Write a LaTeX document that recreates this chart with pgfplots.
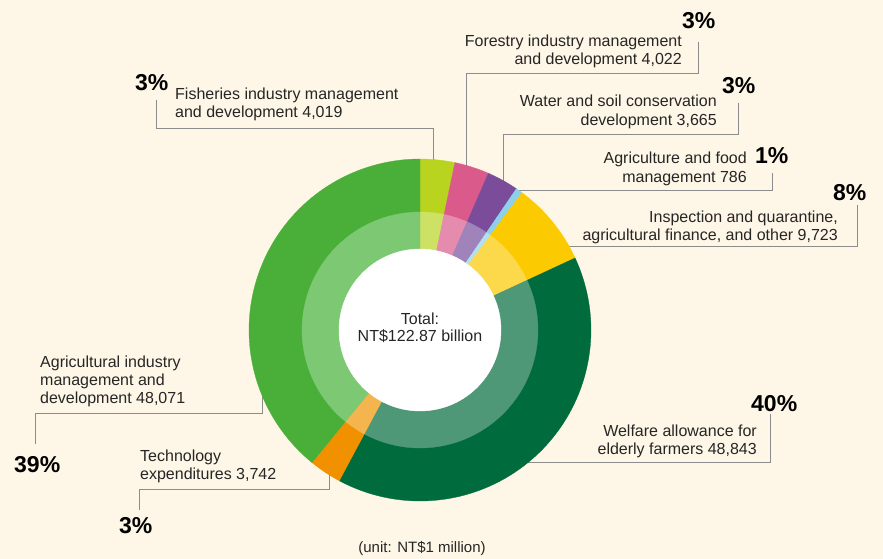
\documentclass[border=0pt]{standalone}
\usepackage{pgfplots}
\pgfplotsset{compat=1.18}
\usepackage{fontspec}
\setmainfont{Liberation Sans}
\definecolor{bg}{HTML}{FEF6E6}
\definecolor{cAgri}{HTML}{4AAF38}\definecolor{lAgri}{HTML}{7DC873}
\definecolor{cFish}{HTML}{B8D41E}\definecolor{lFish}{HTML}{CDE264}
\definecolor{cFor}{HTML}{DA5A8B}\definecolor{lFor}{HTML}{E58CAE}
\definecolor{cWat}{HTML}{7A4C9A}\definecolor{lWat}{HTML}{A083BA}
\definecolor{cFood}{HTML}{8DD0EA}\definecolor{lFood}{HTML}{B1E0F0}
\definecolor{cIns}{HTML}{FBCA00}\definecolor{lIns}{HTML}{FCD94A}
\definecolor{cWel}{HTML}{006B3C}\definecolor{lWel}{HTML}{4E9777}
\definecolor{cTec}{HTML}{F29100}\definecolor{lTec}{HTML}{F4B44E}
\definecolor{lead}{HTML}{8C8C8C}
% values in NT$ billion (original unit NT$1 million)
% Fisheries 4,019; Forestry 4,022; Water 3,665; Food 786; Inspection 9,723;
% Welfare 48,843; Technology 3,742; Agricultural industry 48,071
\pgfmathsetmacro\k{360/122.871}
\pgfmathsetmacro\aA{90}
\pgfmathsetmacro\aB{\aA-\k*4.019}
\pgfmathsetmacro\aC{\aB-\k*4.022}
\pgfmathsetmacro\aD{\aC-\k*3.665}
\pgfmathsetmacro\aE{\aD-\k*0.786}
\pgfmathsetmacro\aF{\aE-\k*9.723}
\pgfmathsetmacro\aG{\aF-\k*48.843}
\pgfmathsetmacro\aH{\aG-\k*3.742}
\pgfmathsetmacro\aI{\aH-\k*48.071}
\newcommand{\sect}[4]{%
  \addplot[fill=#4, draw=#4, line width=0.3pt, domain=#2:#1, samples=80, variable=\t]
    ({420+#3*cos(\t)},{330-#3*sin(\t)}) -- (axis cs:420,330) -- cycle;}
\newcommand{\lbl}[3]{\node[anchor=base #1, inner sep=0pt, font=\fontsize{16}{18}\selectfont, text=black!85] at (axis cs:#2) {#3};}
\newcommand{\pct}[2]{\node[anchor=base west, inner sep=0pt, font=\fontsize{23}{26}\bfseries\selectfont] at (axis cs:#1) {#2};}
\begin{document}
\begin{tikzpicture}
\begin{axis}[scale only axis, width=883pt, height=559pt,
  xmin=0, xmax=883, ymin=0, ymax=559, y dir=reverse, hide axis, clip=false]
\fill[bg] (axis cs:0,0) rectangle (axis cs:883,559);
% leader lines
\draw[lead, line width=0.9pt] (axis cs:156,100) -- (axis cs:156,128) -- (axis cs:433,128) -- (axis cs:433,175);
\draw[lead, line width=0.9pt] (axis cs:698,42) -- (axis cs:698,73) -- (axis cs:466,73) -- (axis cs:466,175);
\draw[lead, line width=0.9pt] (axis cs:738,103) -- (axis cs:738,134) -- (axis cs:503,134) -- (axis cs:503,190);
\draw[lead, line width=0.9pt] (axis cs:772,173) -- (axis cs:772,190) -- (axis cs:505,190);
\draw[lead, line width=0.9pt] (axis cs:857,205) -- (axis cs:857,246) -- (axis cs:560,246);
\draw[lead, line width=0.9pt] (axis cs:770,414) -- (axis cs:770,462) -- (axis cs:515,462);
\draw[lead, line width=0.9pt] (axis cs:35,444) -- (axis cs:35,413) -- (axis cs:262,413) -- (axis cs:262,380);
\draw[lead, line width=0.9pt] (axis cs:139,510) -- (axis cs:139,489) -- (axis cs:329,489) -- (axis cs:329,460);
% outer ring
\sect{\aA}{\aB}{171}{cFish}
\sect{\aB}{\aC}{171}{cFor}
\sect{\aC}{\aD}{171}{cWat}
\sect{\aD}{\aE}{171}{cFood}
\sect{\aE}{\aF}{171}{cIns}
\sect{\aF}{\aG}{171}{cWel}
\sect{\aG}{\aH}{171}{cTec}
\sect{\aH}{\aI}{171}{cAgri}
% inner ring
\sect{\aA}{\aB}{118}{lFish}
\sect{\aB}{\aC}{118}{lFor}
\sect{\aC}{\aD}{118}{lWat}
\sect{\aD}{\aE}{118}{lFood}
\sect{\aE}{\aF}{118}{lIns}
\sect{\aF}{\aG}{118}{lWel}
\sect{\aG}{\aH}{118}{lTec}
\sect{\aH}{\aI}{118}{lAgri}
% hole
\addplot[fill=white, draw=white, domain=0:360, samples=120, variable=\t] ({420+81*cos(\t)},{330-81*sin(\t)}) -- cycle;
\node[anchor=base, inner sep=0pt, font=\fontsize{16}{18}\selectfont, text=black!85] at (axis cs:420,324) {Total:};
\node[anchor=base, inner sep=0pt, font=\fontsize{16}{18}\selectfont, text=black!85] at (axis cs:420,341) {NT\$122.87 billion};
% labels
\pct{135,91}{3\%}
\lbl{west}{175,100}{Fisheries industry management}
\lbl{west}{175,118}{and development 4,019}
\pct{682,29}{3\%}
\lbl{east}{682,47}{Forestry industry management}
\lbl{east}{682,65}{and development 4,022}
\pct{722,94}{3\%}
\lbl{east}{717,107}{Water and soil conservation}
\lbl{east}{717,125}{development 3,665}
\pct{755,163}{1\%}
\lbl{east}{747,164}{Agriculture and food}
\lbl{east}{747,182}{management 786}
\pct{833,200}{8\%}
\lbl{east}{838,222}{Inspection and quarantine,}
\lbl{east}{838,240}{agricultural finance, and other 9,723}
\pct{751,411}{40\%}
\lbl{east}{757,436}{Welfare allowance for}
\lbl{east}{757,454}{elderly farmers 48,843}
\pct{14,472}{39\%}
\lbl{west}{40,367}{Agricultural industry}
\lbl{west}{40,385}{management and}
\lbl{west}{40,403}{development 48,071}
\pct{119,533}{3\%}
\lbl{west}{140,461}{Technology}
\lbl{west}{140,479}{expenditures 3,742}
\node[anchor=base, inner sep=0pt, font=\fontsize{15}{18}\selectfont, text=black!85] at (axis cs:422,552) {(unit: NT\$1 million)};
\end{axis}
\end{tikzpicture}
\end{document}
